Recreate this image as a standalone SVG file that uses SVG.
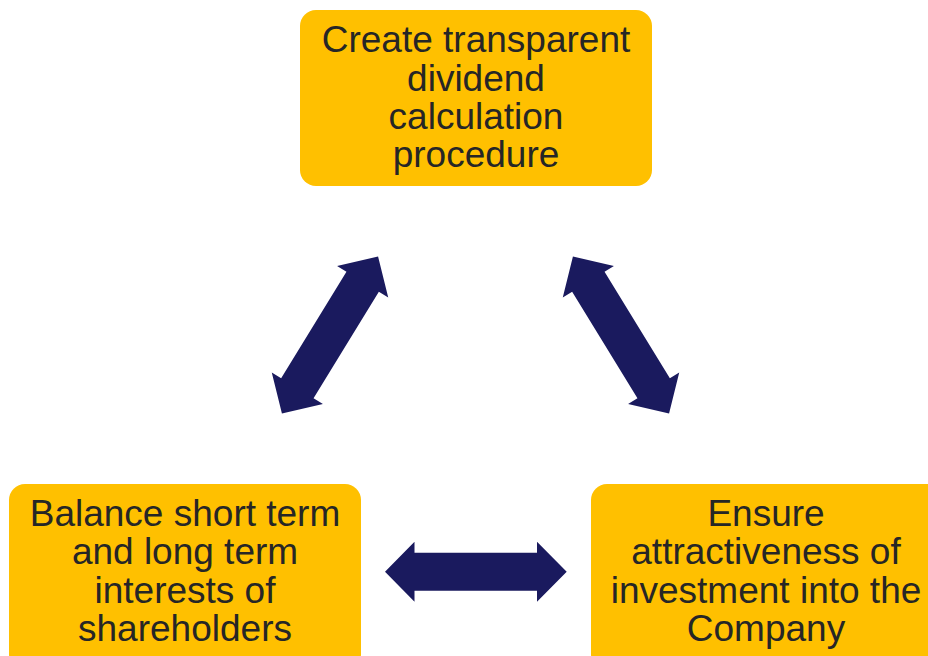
<svg xmlns="http://www.w3.org/2000/svg" width="928" height="656" viewBox="0 0 928 656">
<style>
.box{fill:#FFC000}
.t{font-family:"Liberation Sans",Arial,sans-serif;font-size:37px;fill:#262626;text-anchor:middle}
.arr{fill:#1a1a5e}
</style>
<defs>
<polygon id="dbl" points="-92,0 -62.5,-30 -62.5,-19 62.5,-19 62.5,-30 92,0 62.5,30 62.5,19 -62.5,19 -62.5,30"/>
</defs>
<rect width="928" height="656" fill="#ffffff"/>
<g id="connectors" class="arr">
<use href="#dbl" transform="translate(330,335) rotate(-58.5)"/>
<use href="#dbl" transform="translate(621,335) rotate(58.5)"/>
<polygon points="385,571.7 414.5,541.7 414.5,552.7 537,552.7 537,541.7 566.7,571.7 537,601.7 537,590.7 414.5,590.7 414.5,601.7"/>
</g>
<g id="node-top">
<rect class="box" x="300" y="10" width="352" height="176" rx="16"/>
<text class="t"><tspan x="476" y="52">Create transparent</tspan><tspan x="476" y="90.5">dividend</tspan><tspan x="476" y="128.5">calculation</tspan><tspan x="476" y="166.5">procedure</tspan></text>
</g>
<g id="node-left">
<rect class="box" x="9" y="484" width="352" height="186" rx="16"/>
<text class="t"><tspan x="185" y="526">Balance short term</tspan><tspan x="185" y="564">and long term</tspan><tspan x="185" y="602.5">interests of</tspan><tspan x="185" y="641">shareholders</tspan></text>
</g>
<g id="node-right">
<rect class="box" x="591" y="484" width="352" height="186" rx="16"/>
<text class="t"><tspan x="766" y="526">Ensure</tspan><tspan x="766" y="564">attractiveness of</tspan><tspan x="766" y="602.5">investment into the</tspan><tspan x="766" y="641">Company</tspan></text>
</g>
</svg>
